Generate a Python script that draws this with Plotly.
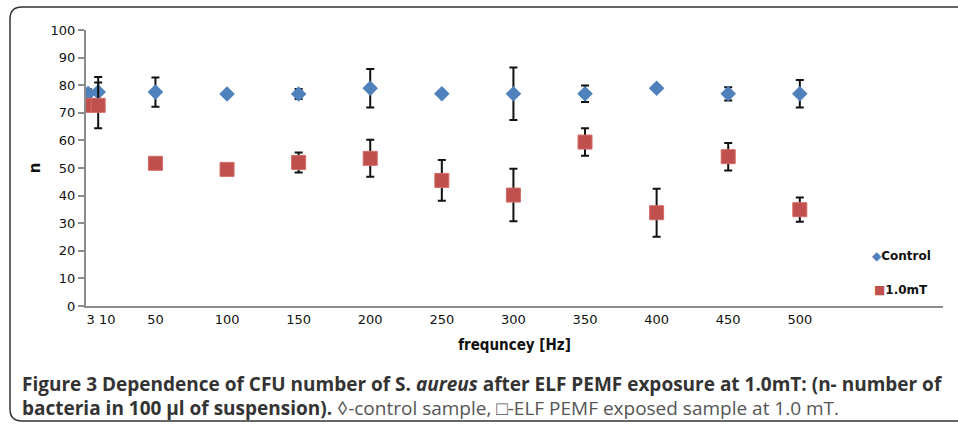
import plotly.graph_objects as go

# Data
freq = [3, 10, 50, 100, 150, 200, 250, 300, 350, 400, 450, 500]
control = [77.0, 77.5, 77.5, 76.8, 76.8, 78.9, 76.9, 76.9, 76.9, 78.9, 76.9, 76.9]
control_err = [1.5, 5.5, 5.3, 0.0, 1.8, 7.0, 0.0, 9.5, 3.0, 0.0, 2.4, 5.0]
exposed = [72.7, 72.7, 51.7, 49.5, 52.0, 53.5, 45.5, 40.2, 59.4, 33.8, 54.1, 34.9]
exposed_err = [0.0, 8.3, 0.0, 0.0, 3.6, 6.7, 7.4, 9.5, 5.0, 8.7, 5.0, 4.4]

x_tick_vals = [12, 50, 100, 150, 200, 250, 300, 350, 400, 450, 500]
x_tick_text = ["3 10", "50", "100", "150", "200", "250", "300", "350", "400", "450", "500"]
y_ticks = [0, 10, 20, 30, 40, 50, 60, 70, 80, 90, 100]

series_names = ["Control", "1.0mT"]
series_colors = ["#4F81BD", "#C0504D"]

W, H = 958, 426
L, R, T, B = 86, 15, 30, 120
pw, ph = W - L - R, H - T - B

def px(x):
    return (x - L) / pw

def py(y):
    return (H - B - y) / ph

fig = go.Figure()
fig.add_trace(go.Scatter(
    x=freq, y=control, mode="markers", name=series_names[0],
    marker=dict(symbol="diamond", size=12, color=series_colors[0]),
    error_y=dict(type="data", array=control_err, color="#111111", thickness=2, width=4),
))
fig.add_trace(go.Scatter(
    x=freq, y=exposed, mode="markers", name=series_names[1],
    marker=dict(symbol="square", size=14, color=series_colors[1], line=dict(color="#D46A66", width=1)),
    error_y=dict(type="data", array=exposed_err, color="#111111", thickness=2, width=4),
))

axis_font = dict(family="DejaVu Sans", size=13, color="#111111")

fig.update_layout(
    width=W, height=H,
    margin=dict(l=L, r=R, t=T, b=B),
    paper_bgcolor="white", plot_bgcolor="white",
    showlegend=False,
    xaxis=dict(
        range=[1.5, 600], tickmode="array", tickvals=x_tick_vals, ticktext=x_tick_text,
        showgrid=False, zeroline=False, showline=True, linecolor="#8c8c8c", linewidth=2,
        ticks="", tickfont=axis_font,
        title=dict(text="<b>frequncey [Hz]</b>", font=dict(family="DejaVu Sans Condensed, DejaVu Sans", size=15, color="#111111"), standoff=14),
    ),
    yaxis=dict(
        range=[0, 100], tickmode="array", tickvals=y_ticks,
        showgrid=False, zeroline=False, showline=True, linecolor="#8c8c8c", linewidth=2,
        ticks="outside", ticklen=6, tickcolor="#8c8c8c", tickwidth=1.5, tickfont=axis_font,
        title=dict(text="<b>n</b>", font=dict(family="DejaVu Sans", size=15, color="#111111"), standoff=6),
    ),
    font=dict(family="Open Sans"),
)

# manual legend (symbol + name as text)
legend_font = dict(family="DejaVu Sans", size=12, color="#111111")
fig.add_annotation(
    x=px(870), y=py(256), xref="paper", yref="paper", xanchor="left", yanchor="middle",
    showarrow=False, font=legend_font,
    text=f"<span style='color:{series_colors[0]}'>◆</span><b>{series_names[0]}</b>",
)
fig.add_annotation(
    x=px(872), y=py(290), xref="paper", yref="paper", xanchor="left", yanchor="middle",
    showarrow=False, font=legend_font,
    text=f"<span style='color:{series_colors[1]}'>■</span><b>{series_names[1]}</b>",
)

# rounded frame around the figure
x0, x1 = px(10), px(975)
y0, y1 = py(421), py(7)
rx, ry = 12 / pw, 12 / ph
path = (f"M {x0+rx},{y1} L {x1},{y1} M {x0+rx},{y1} Q {x0},{y1} {x0},{y1-ry} "
        f"L {x0},{y0+ry} Q {x0},{y0} {x0+rx},{y0} L {x1},{y0}")
fig.add_shape(type="path", path=path, xref="paper", yref="paper",
              line=dict(color="#333333", width=1.5))

cap_font = dict(family="Open Sans", size=19, color="#333333")
fig.add_annotation(
    x=px(20), y=py(384), xref="paper", yref="paper", xanchor="left", yanchor="middle",
    showarrow=False, font=cap_font,
    text="<b>Figure 3 Dependence of CFU number of S. <i>aureus</i> after ELF PEMF exposure at 1.0mT: (n- number of</b>",
)
fig.add_annotation(
    x=px(20), y=py(408), xref="paper", yref="paper", xanchor="left", yanchor="middle",
    showarrow=False, font=cap_font,
    text="<b>bacteria in 100 µl of suspension).</b> <span style='color:#555555'>◊-control sample, □-ELF PEMF exposed sample at 1.0 mT.</span>",
)

fig.write_html("out.html")
